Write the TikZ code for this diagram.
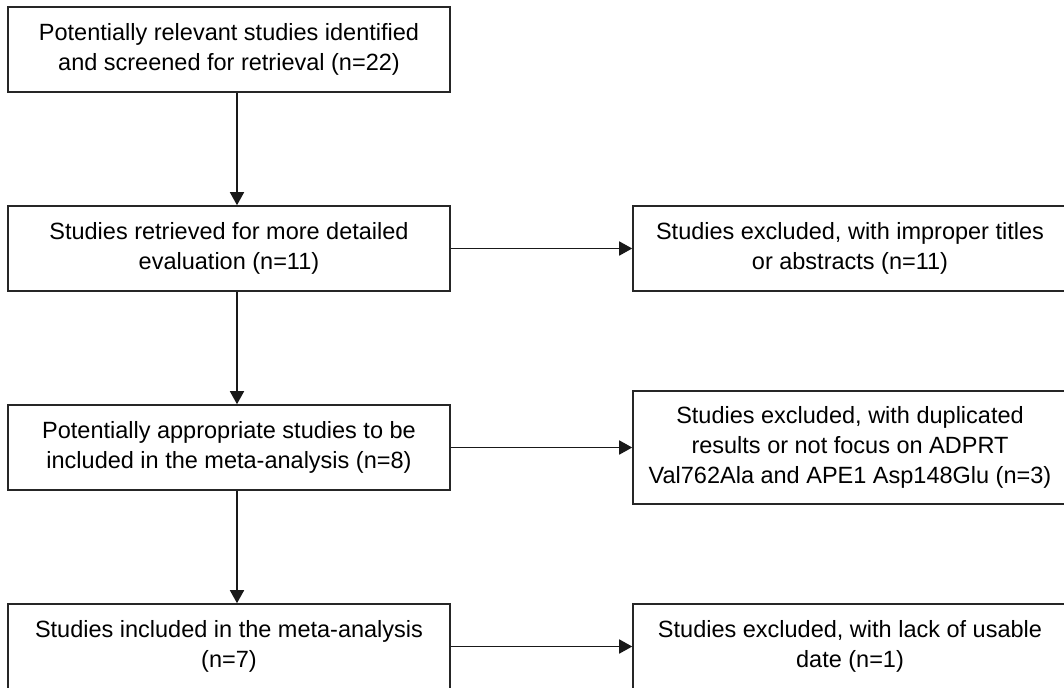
\documentclass[tikz,border=0pt]{standalone}
\usepackage{fontspec}
\setmainfont{Liberation Sans}
\usetikzlibrary{arrows.meta}

\begin{document}
\begin{tikzpicture}[x=0.5pt,y=-0.5pt,
  box/.style={draw=black!85,line width=0.8pt,minimum width=221pt,minimum height=42.5pt,
    inner sep=0pt,align=center,font=\fontsize{11.75}{15}\selectfont},
  xbox/.style={box,minimum width=217pt},
  arr/.style={draw=black!90,line width=0.8pt,-{Triangle[length=6.5pt,width=7pt]}}]
\clip (0,0) rectangle (1064,687);
% A) main column
\node[box] (found) at (229,49.5) {Potentially relevant studies identified\\and screened for retrieval (n=22)};
\node[box] (retr) at (229,248.5) {Studies retrieved for more detailed\\evaluation (n=11)};
\node[box] (appr) at (229,447.5) {Potentially appropriate studies to be\\included in the meta-analysis (n=8)};
\node[box] (incl) at (229,646.5) {Studies included in the meta-analysis\\(n=7)};
% B) exclusions
\node[xbox] (exA) at (850,248.5) {Studies excluded, with improper titles\\or abstracts (n=11)};
\node[xbox,minimum height=56.5pt] (exB) at (850,447.5) {Studies excluded, with duplicated\\results or not focus on ADPRT\\Val762Ala and APE1 Asp148Glu (n=3)};
\node[xbox] (exC) at (850,646.5) {Studies excluded, with lack of usable\\date (n=1)};
% C) arrows
\draw[arr] ([xshift=4pt]found.south) -- ([xshift=4pt]retr.north);
\draw[arr] ([xshift=4pt]retr.south) -- ([xshift=4pt]appr.north);
\draw[arr] ([xshift=4pt]appr.south) -- ([xshift=4pt]incl.north);
\draw[arr] (retr.east) -- (exA.west);
\draw[arr] (appr.east) -- (exB.west);
\draw[arr] (incl.east) -- (exC.west);
\end{tikzpicture}
\end{document}
